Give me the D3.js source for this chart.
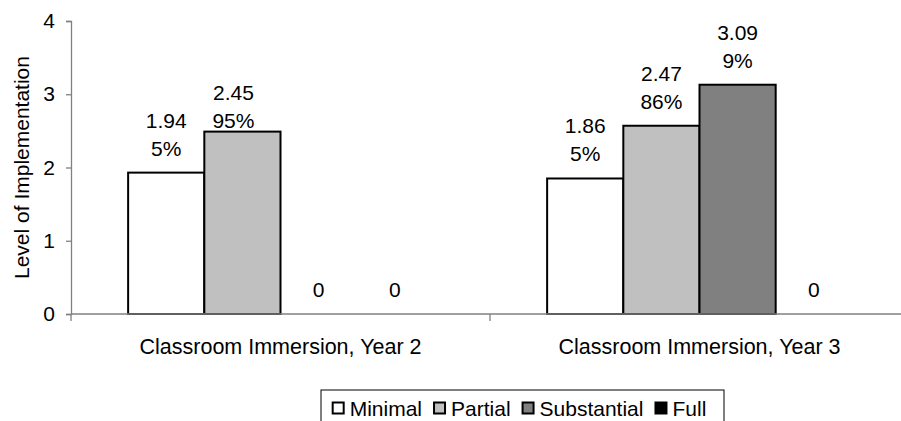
<!DOCTYPE html>
<html>
<head>
<meta charset="utf-8">
<script src="https://cdn.jsdelivr.net/npm/d3@7/dist/d3.min.js"></script>
<style>
  html, body { margin: 0; padding: 0; background: #fff; }
  svg { display: block; font-family: Arial, "Liberation Sans", sans-serif; }
</style>
</head>
<body>
<svg id="chart" width="901" height="421"></svg>
<script>
// ---- data ----
const categories = ["Classroom Immersion, Year 2", "Classroom Immersion, Year 3"];
const seriesNames = ["Minimal", "Partial", "Substantial", "Full"];
// bar heights as drawn (per category, per series)
const year2Values = [1.93, 2.49, 0, 0];
const year3Values = [1.85, 2.57, 3.13, 0];
// data label texts
const year2Means = ["1.94", "2.45", "0", "0"];
const year3Means = ["1.86", "2.47", "3.09", "0"];
const year2Percents = ["5%", "95%", "", ""];
const year3Percents = ["5%", "86%", "9%", ""];
const yTicks = [0, 1, 2, 3, 4];
const yTitle = "Level of Implementation";
const seriesColors = ["#ffffff", "#c0c0c0", "#808080", "#000000"];

// ---- layout ----
const svg = d3.select("#chart");
const plotLeft = 71, plotRight = 909, plotTop = 21, plotBottom = 314;
const FONT = 21;

const y = d3.scaleLinear().domain([0, 4]).range([plotBottom, plotTop]);
const x0 = d3.scaleBand().domain(categories).range([plotLeft, plotRight]).paddingInner(0).paddingOuter(0);
const x1 = d3.scaleBand().domain(seriesNames).range([0, x0.bandwidth()]).paddingInner(0).paddingOuter(0.75);
const color = d3.scaleOrdinal().domain(seriesNames).range(seriesColors);

const valuesByCat = [year2Values, year3Values];
const meansByCat = [year2Means, year3Means];
const pctByCat = [year2Percents, year3Percents];

const rows = [];
categories.forEach((c, ci) => {
  seriesNames.forEach((s, si) => {
    rows.push({ cat: c, ci, series: s, si, value: valuesByCat[ci][si],
                mean: meansByCat[ci][si], pct: pctByCat[ci][si] });
  });
});

// y axis
const yAxis = svg.append("g")
  .attr("transform", `translate(${plotLeft},0)`)
  .call(d3.axisLeft(y).tickValues(yTicks).tickSize(5).tickPadding(11).tickFormat(d3.format("d")));
yAxis.select(".domain").attr("stroke", "#808080").attr("stroke-width", 1.3);
yAxis.selectAll(".tick line").attr("stroke", "#808080").attr("stroke-width", 1.3);
yAxis.selectAll(".tick text").attr("font-size", FONT).attr("fill", "#000")
  .attr("font-family", "Arial, 'Liberation Sans', sans-serif");

// bars
svg.append("g").selectAll("rect").data(rows.filter(d => d.value > 0)).join("rect")
  .attr("x", d => x0(d.cat) + x1(d.series))
  .attr("y", d => y(d.value))
  .attr("width", x1.bandwidth())
  .attr("height", d => y(0) - y(d.value))
  .attr("fill", d => color(d.series))
  .attr("stroke", "#000")
  .attr("stroke-width", 2);

// x axis line and category boundary ticks
const xAxisG = svg.append("g");
xAxisG.append("line")
  .attr("x1", plotLeft).attr("x2", plotRight).attr("y1", y(0)).attr("y2", y(0))
  .attr("stroke", "#808080").attr("stroke-width", 1.3);
const boundaries = categories.map(c => x0(c)).concat([x0(categories[categories.length - 1]) + x0.bandwidth()]);
xAxisG.selectAll("line.tk").data(boundaries).join("line").attr("class", "tk")
  .attr("x1", d => d).attr("x2", d => d).attr("y1", y(0)).attr("y2", y(0) + 7)
  .attr("stroke", "#808080").attr("stroke-width", 1.3);
xAxisG.selectAll("text").data(categories).join("text")
  .attr("x", d => x0(d) + x0.bandwidth() / 2)
  .attr("y", 354)
  .attr("text-anchor", "middle")
  .attr("font-size", 21.5)
  .text(d => d);

// y title
svg.append("text")
  .attr("transform", `translate(29,${(plotTop + plotBottom) / 2}) rotate(-90)`)
  .attr("text-anchor", "middle")
  .attr("font-size", FONT)
  .text(yTitle);

// data labels
const labels = svg.append("g").selectAll("g").data(rows).join("g")
  .attr("transform", d => {
    let cx = x0(d.cat) + x1(d.series) + x1.bandwidth() / 2;
    let by = y(d.value) - 17;
    // manually repositioned label (Year 2, Partial)
    if (d.ci === 0 && d.si === 1) { cx -= 9; by = y(d.value) - 4; }
    return `translate(${cx},${by})`;
  });
labels.each(function (d) {
  const g = d3.select(this);
  if (d.pct) {
    g.append("text").attr("text-anchor", "middle").attr("font-size", FONT).attr("y", -28).text(d.mean);
    g.append("text").attr("text-anchor", "middle").attr("font-size", FONT).attr("y", 0).text(d.pct);
  } else {
    g.append("text").attr("text-anchor", "middle").attr("font-size", FONT).attr("y", 0).text(d.mean);
  }
});

// legend
const legend = svg.append("g");
const items = legend.selectAll("g").data(seriesNames).join("g");
items.append("rect").attr("width", 11).attr("height", 11)
  .attr("fill", d => color(d)).attr("stroke", "#000").attr("stroke-width", 2);
items.append("text").attr("x", 17).attr("y", 13).attr("font-size", FONT).text(d => d);
let cursor = 0;
const gap = 12;
items.each(function () {
  const g = d3.select(this);
  g.attr("transform", `translate(${cursor},0)`);
  cursor += 17 + g.select("text").node().getComputedTextLength() + gap;
});
const legendWidth = cursor - gap;
const boxL = 321, boxR = 724, boxT = 390;
legend.attr("transform", `translate(${(boxL + boxR) / 2 - legendWidth / 2 - 3},${402.5})`);
svg.insert("rect", ":first-child")
  .attr("x", boxL).attr("y", boxT).attr("width", boxR - boxL).attr("height", 45)
  .attr("fill", "#fff").attr("stroke", "#000").attr("stroke-width", 1);
</script>
</body>
</html>
